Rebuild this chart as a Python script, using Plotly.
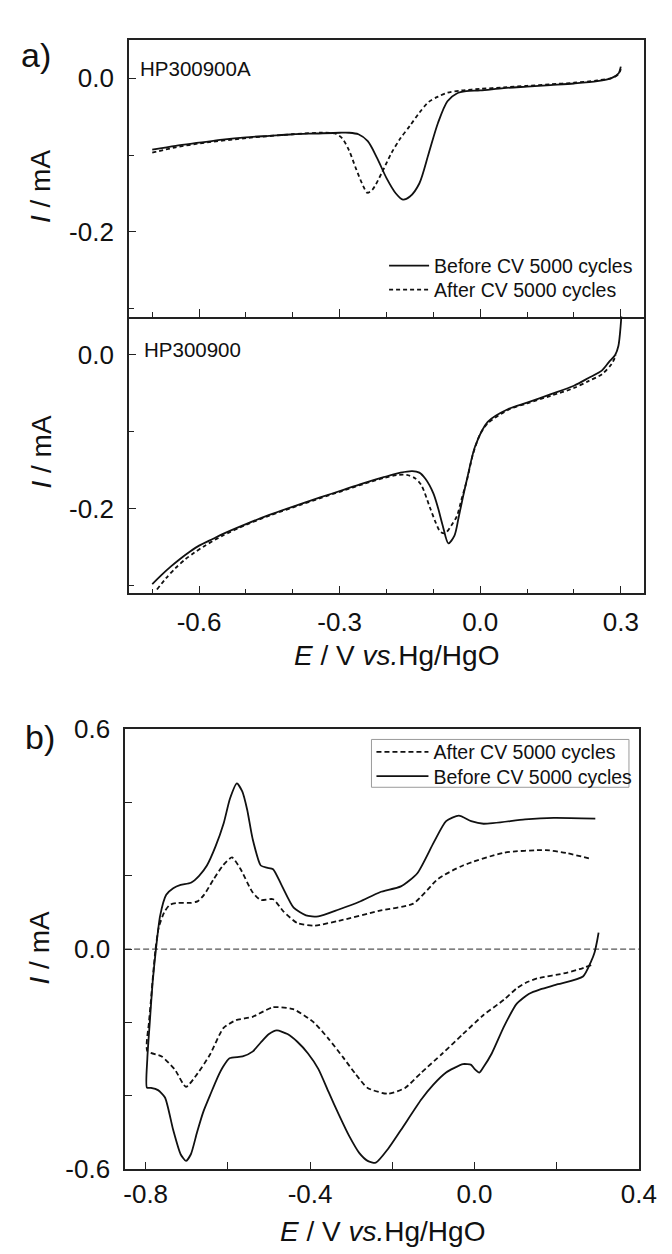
import plotly.graph_objects as go

# ---------------- data ----------------
# Panel a (top) : HP300900A
a1_before_x = [-0.70, -0.65, -0.60, -0.55, -0.50, -0.45, -0.40, -0.35, -0.30, -0.28, -0.26, -0.24, -0.22,
               -0.20, -0.18, -0.165, -0.15, -0.13, -0.11, -0.09, -0.07, -0.05, -0.03, 0.0, 0.05, 0.10,
               0.15, 0.20, 0.25, 0.28, 0.295, 0.30]
a1_before_y = [-0.093, -0.088, -0.084, -0.080, -0.077, -0.075, -0.073, -0.072, -0.071, -0.071, -0.073,
               -0.082, -0.104, -0.130, -0.150, -0.158, -0.154, -0.137, -0.098, -0.058, -0.030, -0.020,
               -0.017, -0.016, -0.013, -0.011, -0.009, -0.007, -0.004, 0.000, 0.006, 0.015]
a1_after_x = [-0.70, -0.65, -0.60, -0.50, -0.40, -0.34, -0.31, -0.295, -0.28, -0.265, -0.25, -0.241,
              -0.23, -0.21, -0.19, -0.17, -0.15, -0.13, -0.11, -0.09, -0.07, -0.04, 0.0, 0.05, 0.10,
              0.15, 0.20, 0.25, 0.28, 0.295, 0.30]
a1_after_y = [-0.097, -0.090, -0.085, -0.078, -0.073, -0.071, -0.072, -0.078, -0.094, -0.118, -0.140,
              -0.149, -0.145, -0.123, -0.098, -0.078, -0.062, -0.045, -0.031, -0.024, -0.019, -0.016,
              -0.014, -0.012, -0.010, -0.008, -0.006, -0.003, 0.000, 0.005, 0.012]

# Panel a (bottom) : HP300900
a2_before_x = [-0.70, -0.68, -0.66, -0.64, -0.62, -0.60, -0.57, -0.55, -0.50, -0.45, -0.384, -0.34,
               -0.295, -0.25, -0.206, -0.17, -0.145, -0.13, -0.117, -0.10, -0.09, -0.08, -0.068, -0.055,
               -0.046, -0.037, -0.028, -0.011, 0.016, 0.061, 0.10, 0.151, 0.20, 0.231, 0.26, 0.275,
               0.288, 0.295, 0.30, 0.302]
a2_before_y = [-0.298, -0.286, -0.275, -0.265, -0.256, -0.248, -0.239, -0.233, -0.220, -0.208, -0.194,
               -0.185, -0.176, -0.167, -0.159, -0.153, -0.151, -0.153, -0.161, -0.180, -0.199, -0.222,
               -0.245, -0.235, -0.211, -0.185, -0.161, -0.119, -0.087, -0.070, -0.062, -0.051, -0.040,
               -0.030, -0.020, -0.009, 0.000, 0.012, 0.040, 0.060]
a2_after_x = [-0.69, -0.67, -0.65, -0.63, -0.61, -0.59, -0.55, -0.50, -0.45, -0.384, -0.34, -0.295,
              -0.25, -0.206, -0.175, -0.157, -0.14, -0.126, -0.107, -0.095, -0.085, -0.075, -0.062,
              -0.05, -0.04, -0.028, -0.015, 0.0, 0.016, 0.061, 0.10, 0.151, 0.20, 0.231, 0.26, 0.28,
              0.29]
a2_after_y = [-0.305, -0.290, -0.277, -0.266, -0.257, -0.249, -0.235, -0.221, -0.209, -0.195, -0.186,
              -0.177, -0.168, -0.160, -0.156, -0.156, -0.160, -0.169, -0.199, -0.218, -0.230, -0.232,
              -0.222, -0.210, -0.188, -0.162, -0.128, -0.103, -0.089, -0.071, -0.063, -0.053, -0.043,
              -0.034, -0.025, -0.012, 0.000]

# Panel b : cyclic voltammograms (cathodic sweep right->left, then anodic sweep left->right)
b_before_x = [0.302, 0.298, 0.292, 0.284, 0.264, 0.203, 0.160, 0.133, 0.103, 0.072, 0.042, 0.022, 0.012,
              0.0, -0.008, -0.028, -0.05, -0.069, -0.10, -0.129, -0.179, -0.21, -0.240, -0.26, -0.280,
              -0.305, -0.330, -0.355, -0.380, -0.405, -0.431, -0.455, -0.481, -0.50, -0.52, -0.540,
              -0.564, -0.596, -0.611, -0.625, -0.643, -0.66, -0.675, -0.69, -0.702, -0.715, -0.733,
              -0.753, -0.77, -0.787, -0.797,
              -0.796, -0.790, -0.783, -0.775, -0.765, -0.750, -0.733, -0.715, -0.690, -0.670, -0.651,
              -0.630, -0.610, -0.595, -0.578, -0.565, -0.553, -0.540, -0.520, -0.505, -0.490, -0.470,
              -0.440, -0.410, -0.380, -0.330, -0.280, -0.230, -0.179, -0.139, -0.099, -0.069, -0.038,
              -0.008, 0.022, 0.123, 0.193, 0.294]
b_before_y = [0.045, 0.020, -0.010, -0.033, -0.075, -0.096, -0.110, -0.122, -0.149, -0.211, -0.285,
              -0.322, -0.337, -0.327, -0.316, -0.314, -0.325, -0.337, -0.370, -0.410, -0.494, -0.545,
              -0.583, -0.578, -0.557, -0.510, -0.452, -0.390, -0.327, -0.285, -0.253, -0.232, -0.222,
              -0.232, -0.255, -0.280, -0.293, -0.298, -0.320, -0.350, -0.398, -0.445, -0.500, -0.560,
              -0.578, -0.560, -0.494, -0.405, -0.385, -0.379, -0.378,
              -0.300, -0.200, -0.090, 0.000, 0.090, 0.148, 0.166, 0.175, 0.181, 0.200, 0.228, 0.280,
              0.344, 0.410, 0.452, 0.430, 0.380, 0.302, 0.228, 0.222, 0.218, 0.176, 0.113, 0.092,
              0.089, 0.108, 0.129, 0.155, 0.171, 0.207, 0.291, 0.349, 0.364, 0.349, 0.342, 0.354,
              0.358, 0.356]

b_after_x = [0.284, 0.255, 0.224, 0.153, 0.125, 0.103, 0.072, 0.022, -0.028, -0.078, -0.129, -0.169,
             -0.210, -0.260, -0.290, -0.320, -0.355, -0.390, -0.441, -0.491, -0.540, -0.580, -0.611,
             -0.643, -0.674, -0.702, -0.729, -0.761, -0.796,
             -0.792, -0.788, -0.782, -0.776, -0.768, -0.755, -0.741, -0.721, -0.690, -0.674, -0.658,
             -0.635, -0.612, -0.590, -0.570, -0.540, -0.520, -0.490, -0.465, -0.431, -0.390, -0.330,
             -0.230, -0.149, -0.088, -0.028, 0.072, 0.173, 0.224, 0.284]
b_after_y = [-0.044, -0.055, -0.065, -0.080, -0.092, -0.107, -0.138, -0.180, -0.232, -0.285, -0.337,
             -0.379, -0.395, -0.379, -0.340, -0.295, -0.245, -0.201, -0.164, -0.159, -0.185, -0.194,
             -0.216, -0.287, -0.340, -0.376, -0.329, -0.293, -0.278,
             -0.200, -0.150, -0.070, 0.000, 0.060, 0.100, 0.121, 0.126, 0.126, 0.130, 0.148, 0.190,
             0.228, 0.250, 0.220, 0.155, 0.134, 0.136, 0.103, 0.071, 0.064, 0.077, 0.105, 0.124,
             0.192, 0.228, 0.263, 0.270, 0.262, 0.246]

# tick labels
a_x_ticks = [-0.6, -0.3, 0.0, 0.3]
a_x_ticktext = ["-0.6", "-0.3", "0.0", "0.3"]
a_x_minor = [-0.7, -0.5, -0.4, -0.2, -0.1, 0.1, 0.2]
a_y_ticks = [-0.2, 0.0]
a_y_ticktext = ["-0.2", "0.0"]
a_y_minor = [-0.3, -0.1]
b_x_ticks = [-0.8, -0.4, 0.0, 0.4]
b_x_ticktext = ["-0.8", "-0.4", "0.0", "0.4"]
b_x_minor = [-0.6, -0.2, 0.2]
b_y_ticks = [-0.6, 0.0, 0.6]
b_y_ticktext = ["-0.6", "0.0", "0.6"]
b_y_minor = [-0.4, -0.2, 0.2, 0.4]

legend_before = "Before CV 5000 cycles"
legend_after = "After CV 5000 cycles"

# ---------------- figure ----------------
W, H = 672, 1254
FONT = "Liberation Sans, Arial, sans-serif"
BLACK = "#111111"
TICKF = 26
TITLEF = 28
LW = 1.8


def px(x):
    return x / W


def py(y):
    return 1 - y / H


fig = go.Figure()

# panel a top
fig.add_trace(go.Scatter(x=a1_before_x, y=a1_before_y, mode="lines", name=legend_before,
                         line=dict(color=BLACK, width=LW, shape="spline", smoothing=0.8),
                         xaxis="x", yaxis="y", legend="legend"))
fig.add_trace(go.Scatter(x=a1_after_x, y=a1_after_y, mode="lines", name=legend_after,
                         line=dict(color=BLACK, width=LW, dash="4px,3px", shape="spline", smoothing=0.8),
                         xaxis="x", yaxis="y", legend="legend3"))
# panel a bottom
fig.add_trace(go.Scatter(x=a2_before_x, y=a2_before_y, mode="lines", name=legend_before, showlegend=False,
                         line=dict(color=BLACK, width=LW, shape="spline", smoothing=0.8),
                         xaxis="x2", yaxis="y2"))
fig.add_trace(go.Scatter(x=a2_after_x, y=a2_after_y, mode="lines", name=legend_after, showlegend=False,
                         line=dict(color=BLACK, width=LW, dash="4px,3px", shape="spline", smoothing=0.8),
                         xaxis="x2", yaxis="y2"))
# panel b
fig.add_trace(go.Scatter(x=b_after_x, y=b_after_y, mode="lines", name=legend_after,
                         line=dict(color=BLACK, width=LW, dash="5px,3px", shape="spline", smoothing=0.6),
                         xaxis="x3", yaxis="y3", legend="legend2"))
fig.add_trace(go.Scatter(x=b_before_x, y=b_before_y, mode="lines", name=legend_before,
                         line=dict(color=BLACK, width=LW, shape="spline", smoothing=0.6),
                         xaxis="x3", yaxis="y3", legend="legend4"))

axis_common = dict(showline=True, mirror=True, linecolor="#222222", linewidth=1.5, showgrid=False,
                   zeroline=False, ticks="inside", tickcolor="#222222", tickwidth=1.3,
                   tickfont=dict(family=FONT, size=TICKF, color=BLACK), tickmode="array")
minor_common = dict(ticks="inside", tickcolor="#222222", tickwidth=1.3, showgrid=False)


def leg(x, y, size, itemwidth):
    return dict(x=px(x), y=py(y), xanchor="left", yanchor="middle", bgcolor="rgba(0,0,0,0)",
                borderwidth=0, font=dict(family=FONT, size=size, color=BLACK), itemwidth=itemwidth)


xa_dom = [123.3 / W, 653.7 / W]
fig.update_layout(
    width=W, height=H, margin=dict(l=0, r=0, t=0, b=0),
    paper_bgcolor="white", plot_bgcolor="white",
    font=dict(family=FONT, color=BLACK),
    xaxis=dict(axis_common, domain=xa_dom, range=[-0.75, 0.35], anchor="y",
               tickvals=a_x_ticks, ticktext=a_x_ticktext, ticklen=8, showticklabels=False,
               minor=dict(minor_common, tickvals=a_x_minor, ticklen=5)),
    yaxis=dict(axis_common, domain=[py(300.7), py(17.1)], range=[-0.31, 0.05], anchor="x",
               tickvals=a_y_ticks, ticktext=a_y_ticktext, ticklen=7, ticklabelstandoff=8,
               minor=dict(minor_common, tickvals=a_y_minor, ticklen=5)),
    xaxis2=dict(axis_common, domain=xa_dom, range=[-0.75, 0.35], anchor="y2", mirror=False,
                tickvals=a_x_ticks, ticktext=a_x_ticktext, ticklen=8, ticklabelstandoff=5,
                minor=dict(minor_common, tickvals=a_x_minor, ticklen=5)),
    yaxis2=dict(axis_common, domain=[py(584.3), py(300.7)], range=[-0.31, 0.05], anchor="x2",
                tickvals=a_y_ticks, ticktext=a_y_ticktext, ticklen=7, ticklabelstandoff=8,
                minor=dict(minor_common, tickvals=a_y_minor, ticklen=5)),
    xaxis3=dict(axis_common, domain=[119.5 / W, 648.2 / W], range=[-0.85, 0.4], anchor="y3",
                tickvals=b_x_ticks, ticktext=b_x_ticktext, ticklen=7, ticklabelstandoff=1,
                minor=dict(minor_common, tickvals=b_x_minor, ticklen=7)),
    yaxis3=dict(axis_common, domain=[py(1174), py(723.5)], range=[-0.6, 0.6], anchor="x3",
                tickvals=b_y_ticks, ticktext=b_y_ticktext, ticklen=7, ticklabelstandoff=8,
                minor=dict(minor_common, tickvals=b_y_minor, ticklen=7)),
    legend=leg(386, 249, 19.5, 40),
    legend3=leg(386, 273.5, 19.5, 40),
    legend2=leg(373, 747, 19.5, 52),
    legend4=leg(373, 772, 19.5, 52),
    showlegend=True,
)

# dashed zero line in panel b
fig.add_shape(type="line", xref="x3 domain", yref="y3", x0=0, x1=1, y0=0, y1=0,
              line=dict(color="#555555", width=1.2, dash="6px,3px"), layer="below")
# legend frame in panel b
fig.add_shape(type="rect", xref="paper", yref="paper", x0=px(373), x1=px(638), y0=py(783), y1=py(734),
              line=dict(color="#9a9a9a", width=1), fillcolor="white", layer="above")

ann = []


def add_text(x, y, text, size, xanchor="center", angle=0):
    ann.append(dict(x=px(x), y=py(y), xref="paper", yref="paper", text=text, showarrow=False,
                    xanchor=xanchor, yanchor="middle", textangle=angle,
                    font=dict(family=FONT, size=size, color=BLACK)))


add_text(28, 33, "a)", 34)
add_text(32, 731, "b)", 34)
add_text(133, 46.5, "HP300900A", 20.5, xanchor="left")
add_text(137, 334, "HP300900", 20.5, xanchor="left")
ytitle = "<i>I</i> / mA"
add_text(33, 168, ytitle, TITLEF, angle=-90)
add_text(33, 440, ytitle, TITLEF, angle=-90)
add_text(31, 948, ytitle, TITLEF, angle=-90)
xtitle = "<i>E</i> / V <i>vs.</i>Hg/HgO"
add_text(399, 648, xtitle, TITLEF)
add_text(384, 1238, xtitle, TITLEF)
fig.update_layout(annotations=ann)

fig.write_html("out.html")
